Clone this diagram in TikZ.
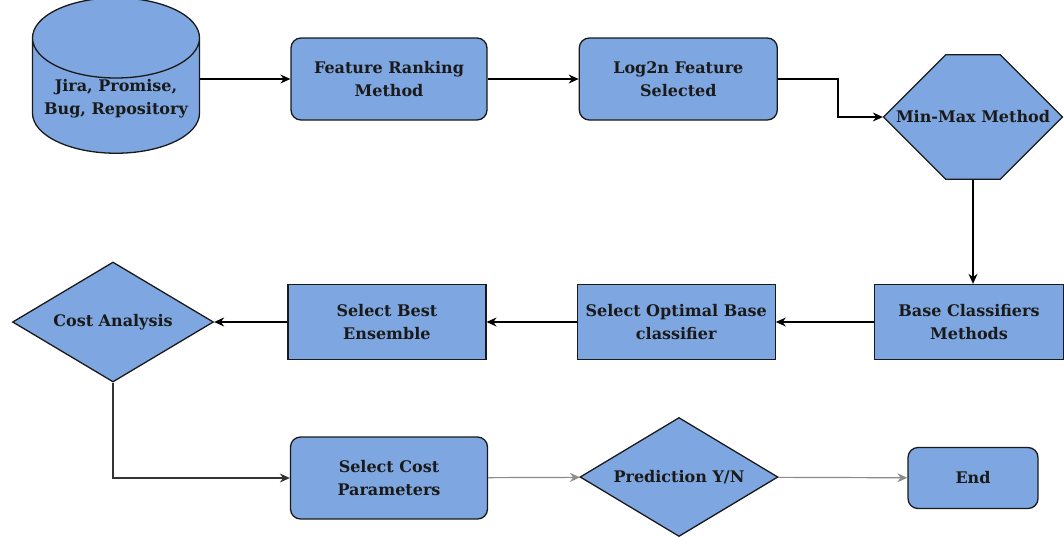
\documentclass[tikz,border=0pt]{standalone}
\usepackage{fontspec}
\setmainfont{DejaVu Serif}
\usepackage{xcolor}
\usepackage{tikz}
\usetikzlibrary{shapes.geometric, shapes.misc, arrows.meta, positioning}

\definecolor{boxblue}{HTML}{7EA6E0}
\definecolor{edge}{HTML}{1A1A1A}

\begin{document}
\begin{tikzpicture}[
    x=1pt, y=-1pt,
    node distance=91pt and 91pt,
    every node/.style={font=\bfseries\fontsize{16}{23}\selectfont, text=edge, align=center},
    stepbox/.style={rectangle, draw=edge, fill=boxblue, line width=1.3pt, minimum width=198pt, minimum height=75pt, inner sep=1pt},
    roundbox/.style={stepbox, rounded corners=10pt, minimum height=82pt},
    database/.style={cylinder, shape border rotate=90, aspect=0.55, draw=edge, fill=boxblue, line width=1.3pt, minimum width=167pt, minimum height=120pt, inner sep=1pt},
    hexbox/.style={chamfered rectangle, chamfered rectangle xsep=26pt, chamfered rectangle ysep=56pt, draw=edge, fill=boxblue, line width=1.3pt, minimum width=179pt, minimum height=111pt, inner sep=0pt},
    decision/.style={diamond, aspect=1.67, draw=edge, fill=boxblue, line width=1.3pt, inner sep=0pt},
    arrow/.style={line width=1.2pt, -{Stealth[length=10pt, width=9pt]}}
]
    \useasboundingbox (0,0) rectangle (1064,536);

    % top row
    \node [database] (src) at (116,99) {Jira, Promise,\\Bug, Repository};
    \node [roundbox, minimum width=196pt] (rank) at (389,79) {Feature Ranking\\Method};
    \node [roundbox, right=91pt of rank] (logn) {Log2n Feature\\Selected};
    \node [hexbox] (minmax) at (973,117) {Min-Max Method};

    % middle row
    \node [stepbox, minimum width=189pt] (base) at (969,322) {Base Classifiers\\Methods};
    \node [stepbox, left=98pt of base] (optimal) {Select Optimal Base\\classifier};
    \node [stepbox, left=90pt of optimal] (best) {Select Best\\Ensemble};
    \node [decision, minimum width=201pt, minimum height=120pt] (cost) at (113,322) {Cost Analysis};

    % bottom row
    \node [roundbox, minimum width=197pt] (params) at (389,478) {Select Cost\\Parameters};
    \node [decision, minimum width=198pt, minimum height=119pt] (predict) at (679,477) {Prediction Y/N};
    \node [roundbox, minimum width=130pt, minimum height=61pt] (finish) at (973,478) {End};

    \draw [arrow] (rank.west -| src.east) -- (rank.west);
    \draw [arrow] (rank) -- (logn);
    \draw [arrow] (logn.east) -- ++(60,0) |- (minmax.west);
    \draw [arrow] (minmax.south) -- (minmax.south |- base.north);
    \draw [arrow] (base) -- (optimal);
    \draw [arrow] (optimal) -- (best);
    \draw [arrow] (best) -- (cost);
    \draw [arrow, draw=black!80] (cost.south) |- (params.west);
    \draw [arrow, draw=black!45] (params) -- (predict);
    \draw [arrow, draw=black!45] (predict) -- (finish);
\end{tikzpicture}
\end{document}
